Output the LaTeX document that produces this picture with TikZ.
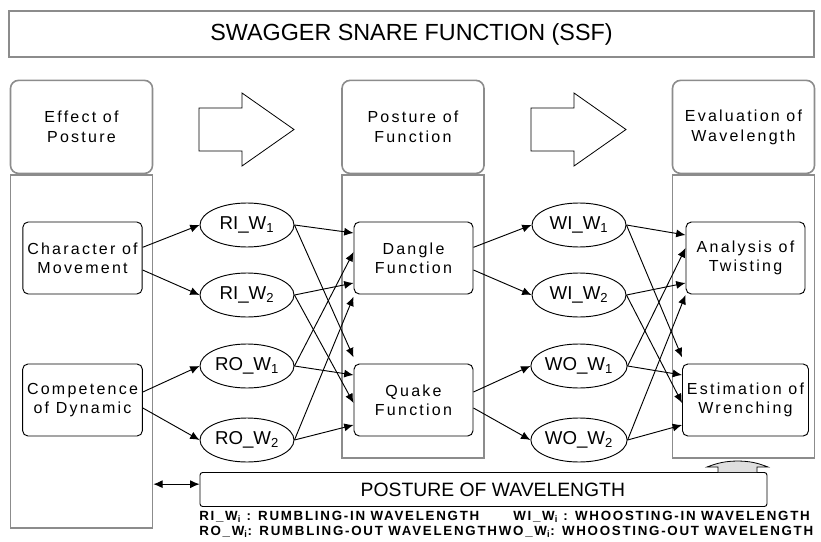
\documentclass[tikz,border=0pt]{standalone}
\usepackage{fontspec}
\setmainfont{Liberation Sans}
\newfontfamily\spacedfont[LetterSpace=14]{Liberation Sans}
\newfontfamily\legendfont[LetterSpace=13]{Liberation Sans}
\usetikzlibrary{positioning,arrows.meta,shapes.geometric}
\definecolor{colline}{RGB}{140,140,140}
\tikzset{
  titlebox/.style={draw=colline, line width=1.3pt, minimum width=603.75pt,
    minimum height=34.5pt, font=\fontsize{17.5}{20}\selectfont},
  colhead/.style={draw=colline, line width=1.2pt, rounded corners=6pt, fill=white,
    minimum width=106.5pt, minimum height=69.75pt, align=center,
    font=\spacedfont\fontsize{12}{15}\selectfont},
  colbody/.style={draw=colline, line width=1.2pt, minimum width=106.5pt},
  stepbox/.style={draw, line width=0.7pt, rounded corners=4pt, minimum width=89.25pt,
    minimum height=54pt, align=center, font=\spacedfont\fontsize{12}{14.25}\selectfont},
  wave/.style={draw, line width=0.7pt, ellipse, inner sep=0pt, minimum width=70.5pt,
    minimum height=33pt, font=\fontsize{14}{16}\selectfont},
  arr/.style={line width=0.7pt, -{Latex[length=7pt,width=6pt]}},
  legend/.style={anchor=west, inner sep=0pt, font=\legendfont\bfseries\fontsize{10}{11}\selectfont}
}
\newcommand\hollowarrow[1]{%
  \draw[line width=0.6pt] (#1) -- ++(0,-21.5) -- ++(43,0) -- ++(0,-15)
    -- ++(52,36.5) -- ++(-52,36.5) -- ++(0,-15) -- ++(-43,0) -- cycle;}

\begin{document}
\begin{tikzpicture}[x=0.75pt,y=-0.75pt]
\useasboundingbox (0,0) rectangle (821,542);

\node[titlebox] (title) at (411.5,34) {SWAGGER SNARE FUNCTION (SSF)};

% column bodies and heads
\node[colbody, minimum height=264.75pt] (effBody) at (81.5,351.5) {};
\node[colbody, minimum height=212.25pt] (posBody) at (413,316.5) {};
\node[colbody, minimum height=212.25pt] (evaBody) at (743.5,316.5) {};

\node[colhead, above=0pt of effBody] (effHead) {Effect of\\Posture};
\node[colhead, above=0pt of posBody] (posHead) {Posture of\\Function};
\node[colhead, above=0pt of evaBody] (evaHead) {Evaluation of\\Wavelength};

\hollowarrow{199,129.5}
\hollowarrow{531,129.5}

% inner boxes
\node[stepbox] (effChar) at (82.5,258) {Character of\\Movement};
\node[stepbox] (effComp) at (82.5,400) {Competence\\of Dynamic};
\node[stepbox] (posDangle) at (413.5,258) {Dangle\\Function};
\node[stepbox] (posQuake) at (413.5,400) {Quake\\Function};
\node[stepbox] (evaTwist) at (745.5,258) {Analysis of\\Twisting};
\node[stepbox] (evaWrench) at (745.5,400) {Estimation of\\Wrenching};

% wavelengths
\node[wave] (riA) at (247,225) {RI\_W\textsubscript{1}};
\node[wave] (riB) at (247,295) {RI\_W\textsubscript{2}};
\node[wave] (roA) at (247,366) {RO\_W\textsubscript{1}};
\node[wave] (roB) at (247,440) {RO\_W\textsubscript{2}};
\node[wave] (wiA) at (579,225) {WI\_W\textsubscript{1}};
\node[wave] (wiB) at (579,295) {WI\_W\textsubscript{2}};
\node[wave] (woA) at (579,366) {WO\_W\textsubscript{1}};
\node[wave] (woB) at (579,440) {WO\_W\textsubscript{2}};

\draw[arr] ([yshift=8pt]effChar.east) -- (riA.west);
\draw[arr] ([yshift=-9pt]effChar.east) -- (riB.west);
\draw[arr] ([yshift=6pt]effComp.east) -- (roA.west);
\draw[arr] ([yshift=-6pt]effComp.east) -- (roB.west);
\draw[arr] ([yshift=8pt]posDangle.east) -- (wiA.west);
\draw[arr] ([yshift=-9pt]posDangle.east) -- (wiB.west);
\draw[arr] ([yshift=6pt]posQuake.east) -- (woA.west);
\draw[arr] ([yshift=-6pt]posQuake.east) -- (woB.west);

\draw[arr] (riA.east) -- ([yshift=18.75pt]posDangle.west);
\draw[arr] (riA.east) -- ([yshift=32pt]posQuake.west);
\draw[arr] (riB.east) -- ([yshift=-18.75pt]posDangle.west);
\draw[arr] (riB.east) -- ([yshift=-2.25pt]posQuake.west);
\draw[arr] (roA.east) -- ([yshift=4.5pt]posDangle.west);
\draw[arr] (roA.east) -- ([yshift=18.75pt]posQuake.west);
\draw[arr] (roB.east) -- ([yshift=-29pt]posDangle.west);
\draw[arr] (roB.east) -- ([yshift=-18.75pt]posQuake.west);

\draw[arr] (wiA.east) -- ([yshift=17.25pt]evaTwist.west);
\draw[arr] (wiA.east) -- ([yshift=32pt]evaWrench.west);
\draw[arr] (wiB.east) -- ([yshift=-18.75pt]evaTwist.west);
\draw[arr] (wiB.east) -- ([yshift=-2.25pt]evaWrench.west);
\draw[arr] (woA.east) -- ([yshift=7.5pt]evaTwist.west);
\draw[arr] (woA.east) -- ([yshift=18.75pt]evaWrench.west);
\draw[arr] (woB.east) -- ([yshift=-27.75pt]evaTwist.west);
\draw[arr] (woB.east) -- ([yshift=-18.75pt]evaWrench.west);

% posture of wavelength
\node[draw, line width=0.7pt, rounded corners=2pt, minimum width=425.25pt, minimum height=25.5pt,
  font=\fontsize{14.5}{16}\selectfont] (pstBox) at (483.5,489.5) {\hspace*{14pt}POSTURE OF WAVELENGTH};
\coordinate (pstIn) at ([yshift=4pt]pstBox.west);
\draw[line width=0.7pt, {Latex[length=7pt,width=6pt]}-{Latex[length=7pt,width=6pt]}] (effBody.east |- pstIn) -- (pstIn);
\filldraw[fill=gray!25, line width=0.6pt] (718,472) -- (718,467) -- (707,467)
  to[bend left=10] (738,461) to[bend left=10] (768,467) -- (757,467) -- (757,472);

\node[legend] (legRI) at (199,517) {RI\_W\textsubscript{i} : RUMBLING-IN WAVELENGTH};
\node[legend] (legWI) at (513,517) {WI\_W\textsubscript{i} : WHOOSTING-IN WAVELENGTH};
\node[legend] (legRO) at (199,532) {RO\_W\textsubscript{i}: RUMBLING-OUT WAVELENGTH};
\node[legend, right=1pt of legRO] (legWO) {WO\_W\textsubscript{i}: WHOOSTING-OUT WAVELENGTH};
\end{tikzpicture}
\end{document}
